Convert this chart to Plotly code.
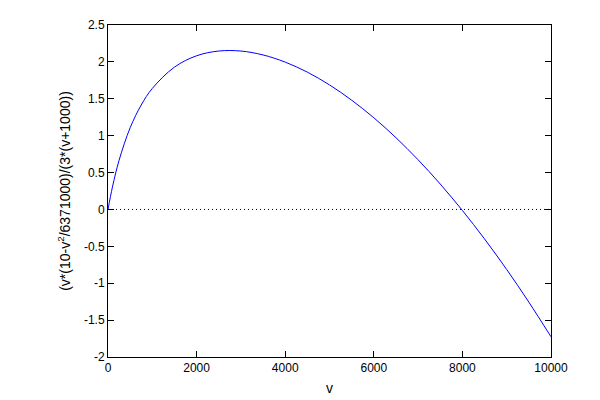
import plotly.graph_objects as go

v_vals = [0, 100, 250, 500, 750, 1000, 1500, 2000, 2500, 3000, 3500, 4000, 4500,
          5000, 5500, 6000, 6500, 7000, 7500, 8000, 8500, 9000, 9500, 10000]
y_vals = [0, 0.303, 0.666, 1.107, 1.416, 1.640, 1.929, 2.083, 2.147, 2.147, 2.094,
          1.997, 1.861, 1.688, 1.481, 1.243, 0.973, 0.673, 0.344, -0.014, -0.400,
          -0.814, -1.256, -1.726]
x_ticks = [0, 2000, 4000, 6000, 8000, 10000]
y_ticks = [-2, -1.5, -1, -0.5, 0, 0.5, 1, 1.5, 2, 2.5]

fig = go.Figure()
fig.add_trace(go.Scatter(x=[0, 10000], y=[0, 0], mode="lines",
                         line=dict(color="black", width=1, dash="1px,3px"), hoverinfo="skip"))
fig.add_trace(go.Scatter(x=v_vals, y=y_vals, mode="lines",
                         line=dict(color="blue", width=1, shape="spline")))
ax = dict(showgrid=False, zeroline=False, showline=True, linecolor="black", linewidth=1,
          mirror="allticks", ticks="inside", ticklen=6, tickcolor="black", automargin=False)
fig.update_layout(
    width=600, height=400, showlegend=False,
    plot_bgcolor="white", paper_bgcolor="white",
    font=dict(family="Liberation Sans, Arial", size=12, color="black"),
    margin=dict(l=100, r=57, t=17, b=51),
    xaxis=dict(range=[0, 10000], tickvals=x_ticks, ticktext=[str(t) for t in x_ticks],
               title=dict(text="v", standoff=8), **ax),
    yaxis=dict(range=[-2, 2.5], tickvals=y_ticks,
               ticktext=[f"{t:g}" for t in y_ticks],
               title=dict(text="(v*(10-v<sup>2</sup>/6371000)/(3*(v+1000))", standoff=10), **ax),
)
fig.write_html("out.html")
